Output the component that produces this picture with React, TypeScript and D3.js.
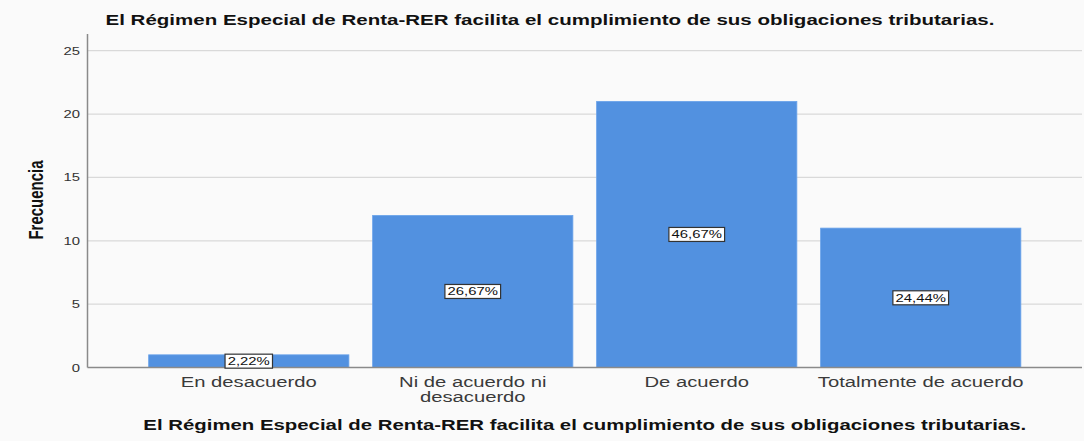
import { useEffect, useRef } from 'react'
import * as d3 from 'd3'

const categories = ['En desacuerdo', 'Ni de acuerdo ni desacuerdo', 'De acuerdo', 'Totalmente de acuerdo']
const categoryLines = [['En desacuerdo'], ['Ni de acuerdo ni', 'desacuerdo'], ['De acuerdo'], ['Totalmente de acuerdo']]
const frequencies = [1, 12, 21, 11]
const percentLabels = ['2,22%', '26,67%', '46,67%', '24,44%']
const yTicks = [0, 5, 10, 15, 20, 25]

const TITLE = 'El Régimen Especial de Renta-RER facilita el cumplimiento de sus obligaciones tributarias.'
const WIDTH = 1084
const HEIGHT = 441
const FONT = 'Arial, "Liberation Sans", sans-serif'
// the source picture is stretched sideways, so text is widened to match
const SX = 1.35

export default function App() {
  const svgRef = useRef<SVGSVGElement | null>(null)

  useEffect(() => {
    if (!svgRef.current) {
      return
    }
    const svg = d3.select(svgRef.current)
    svg.selectAll('*').remove()

    const left = 87.5
    const right = 1082
    const top = 34
    const bottom = 367.5

    const x = d3
      .scaleBand<string>()
      .domain(categories)
      .range([left, right])
      .paddingInner(0.106)
      .paddingOuter(0.273)

    const y = d3.scaleLinear().domain([0, 25]).range([bottom, 50.7])

    const addText = (
      px: number,
      py: number,
      label: string,
      size: number,
      anchor: string,
      weight = 400,
      fill = '#333',
    ) =>
      svg
        .append('text')
        .attr('transform', `translate(${px}, ${py}) scale(${SX}, 1)`)
        .attr('text-anchor', anchor)
        .attr('font-family', FONT)
        .attr('font-size', size)
        .attr('font-weight', weight)
        .attr('fill', fill)
        .text(label)

    svg.append('rect').attr('width', WIDTH).attr('height', HEIGHT).attr('fill', '#fafafa')

    // gridlines
    svg
      .selectAll('line.grid')
      .data(yTicks.filter((t) => t > 0))
      .enter()
      .append('line')
      .attr('class', 'grid')
      .attr('x1', left)
      .attr('x2', right)
      .attr('y1', (d: number) => y(d))
      .attr('y2', (d: number) => y(d))
      .attr('stroke', '#d9d9d9')
      .attr('stroke-width', 1.3)

    // bars
    svg
      .selectAll('rect.bar')
      .data(frequencies)
      .enter()
      .append('rect')
      .attr('class', 'bar')
      .attr('x', (_: number, i: number) => x(categories[i]) ?? 0)
      .attr('y', (d: number) => y(d))
      .attr('width', x.bandwidth())
      .attr('height', (d: number) => bottom - y(d))
      .attr('fill', '#5291e0')
      .attr('stroke', '#6aa3ea')
      .attr('stroke-width', 0.8)

    // axis lines
    svg
      .append('line')
      .attr('x1', left)
      .attr('x2', right)
      .attr('y1', bottom)
      .attr('y2', bottom)
      .attr('stroke', '#8a8a8a')
      .attr('stroke-width', 1.3)
    svg
      .append('line')
      .attr('x1', left)
      .attr('x2', left)
      .attr('y1', top)
      .attr('y2', bottom)
      .attr('stroke', '#8a8a8a')
      .attr('stroke-width', 1.5)

    // y tick labels
    yTicks.forEach((t) => {
      addText(80, y(t) + 4, String(t), 11, 'end', 400, '#333')
    })

    // category labels
    categoryLines.forEach((lines, i) => {
      const cx = (x(categories[i]) ?? 0) + x.bandwidth() / 2
      lines.forEach((line, j) => {
        addText(cx, 387 + j * 15, line, 15, 'middle', 400, '#3a3a3a')
      })
    })

    // percentage labels in boxes
    frequencies.forEach((d, i) => {
      const cx = (x(categories[i]) ?? 0) + x.bandwidth() / 2
      const cy = (y(d) + bottom) / 2
      const rect = svg.append('rect')
      const t = addText(cx, cy + 4, percentLabels[i], 11, 'middle', 400, '#111')
      const w = ((t.node() as SVGTextElement).getComputedTextLength() + 4) * SX
      rect
        .attr('x', cx - w / 2)
        .attr('y', cy - 7)
        .attr('width', w)
        .attr('height', 14)
        .attr('fill', '#ffffff')
        .attr('stroke', '#333')
        .attr('stroke-width', 1.2)
    })

    // titles
    addText(550, 25, TITLE, 15.2, 'middle', 700, '#111')
    addText((left + right) / 2, 430, TITLE, 15.1, 'middle', 700, '#111')

    svg
      .append('text')
      .attr('transform', `translate(43, 200) scale(${SX}, 1) rotate(-90)`)
      .attr('text-anchor', 'middle')
      .attr('font-family', FONT)
      .attr('font-size', 15)
      .attr('font-weight', 700)
      .attr('fill', '#111')
      .text('Frecuencia')
  }, [])

  return (
    <svg
      ref={svgRef}
      width={WIDTH}
      height={HEIGHT}
      style={{ display: 'block', position: 'absolute', left: 0, top: 0 }}
    />
  )
}
